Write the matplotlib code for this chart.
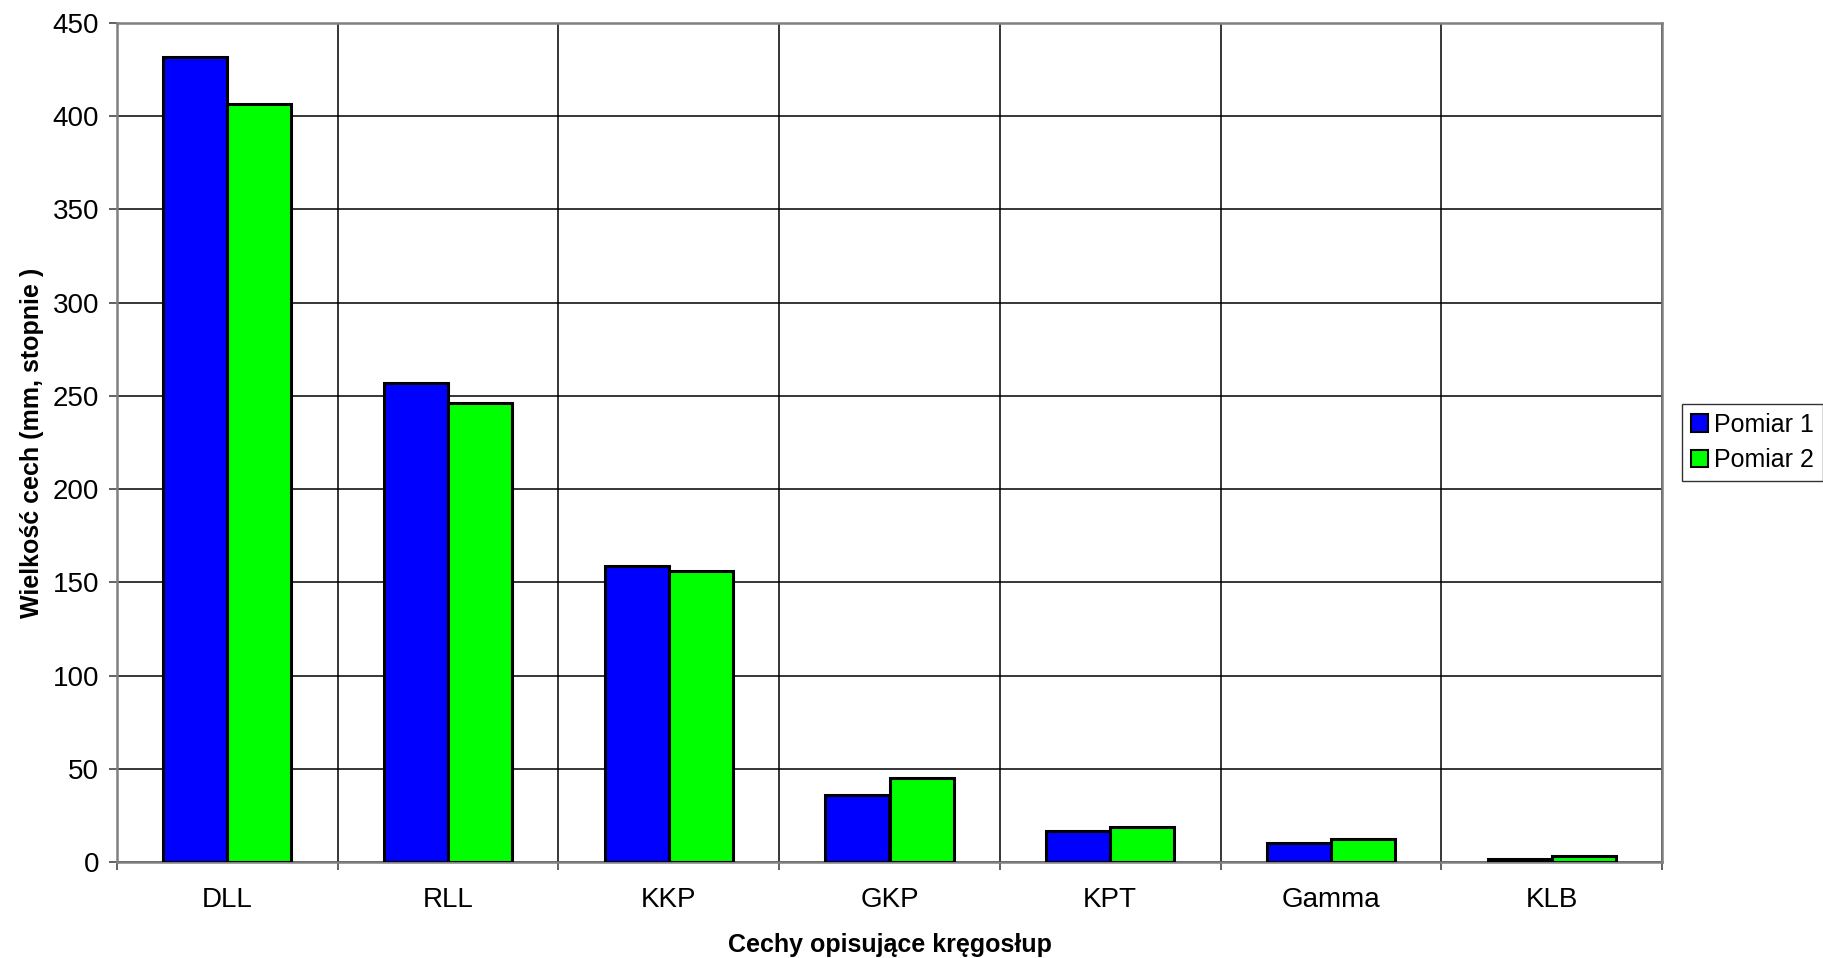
import numpy as np
import matplotlib
matplotlib.use("Agg")
import matplotlib.pyplot as plt
from matplotlib.patches import Patch

plt.rcParams["font.family"] = ["Liberation Sans", "DejaVu Sans"]

categories = ["DLL", "RLL", "KKP", "GKP", "KPT", "Gamma", "KLB"]
pomiar_1 = [431.4, 257.0, 158.7, 36.2, 16.8, 10.5, 1.8]
pomiar_2 = [406.4, 246.0, 155.9, 45.0, 19.1, 12.6, 3.5]
series_names = ["Pomiar 1", "Pomiar 2"]
y_ticks = [0, 50, 100, 150, 200, 250, 300, 350, 400, 450]

BLUE = "#0000ff"
GREEN = "#00ff00"
BAR_W = 0.29

fig = plt.figure(figsize=(18.23, 9.58), dpi=100)
ax = fig.add_axes([117 / 1823, 1 - 862.3 / 958, (1662 - 117) / 1823, (862.3 - 22.7) / 958])

x = np.arange(len(categories))
ax.bar(x - BAR_W / 2, pomiar_1, BAR_W, color=BLUE, edgecolor="black", linewidth=2.2, zorder=3)
ax.bar(x + BAR_W / 2, pomiar_2, BAR_W, color=GREEN, edgecolor="black", linewidth=2.2, zorder=3)

ax.set_xlim(-0.5, len(categories) - 0.5)
ax.set_ylim(0, 450)
ax.set_yticks(y_ticks)
ax.set_xticks(x)
ax.set_xticklabels(categories)
ax.set_xticks(np.arange(len(categories) + 1) - 0.5, minor=True)

ax.grid(axis="y", which="major", color="black", linewidth=1.1, zorder=0)
ax.grid(axis="x", which="minor", color="black", linewidth=1.1, zorder=0)

for s in ax.spines.values():
    s.set_color("#808080")
    s.set_linewidth(1.8)

ax.tick_params(axis="y", direction="out", length=5.8, width=1.3, color="#555555",
               labelsize=20, pad=7)
ax.tick_params(axis="x", which="major", length=0, labelsize=20, pad=18)
ax.tick_params(axis="x", which="minor", direction="out", length=5.8, width=1.3, color="#555555")

ax.set_xlabel("Cechy opisujące kręgosłup", fontsize=18, fontweight="bold", labelpad=14)
ax.set_ylabel("Wielkość cech (mm, stopnie )", fontsize=18, fontweight="bold", labelpad=6)

handles = [Patch(facecolor=BLUE, edgecolor="black", linewidth=1.5),
           Patch(facecolor=GREEN, edgecolor="black", linewidth=1.5)]
leg = fig.legend(handles, series_names, loc="upper left",
                 bbox_to_anchor=(1682 / 1823, 1 - 404 / 958),
                 fontsize=18, frameon=True, fancybox=False,
                 handlelength=0.7, handleheight=0.7, handletextpad=0.25,
                 borderpad=0.35, labelspacing=0.45, borderaxespad=0)
leg.get_frame().set_edgecolor("black")
leg.get_frame().set_linewidth(1.0)

fig.savefig("out.png", dpi=100)
